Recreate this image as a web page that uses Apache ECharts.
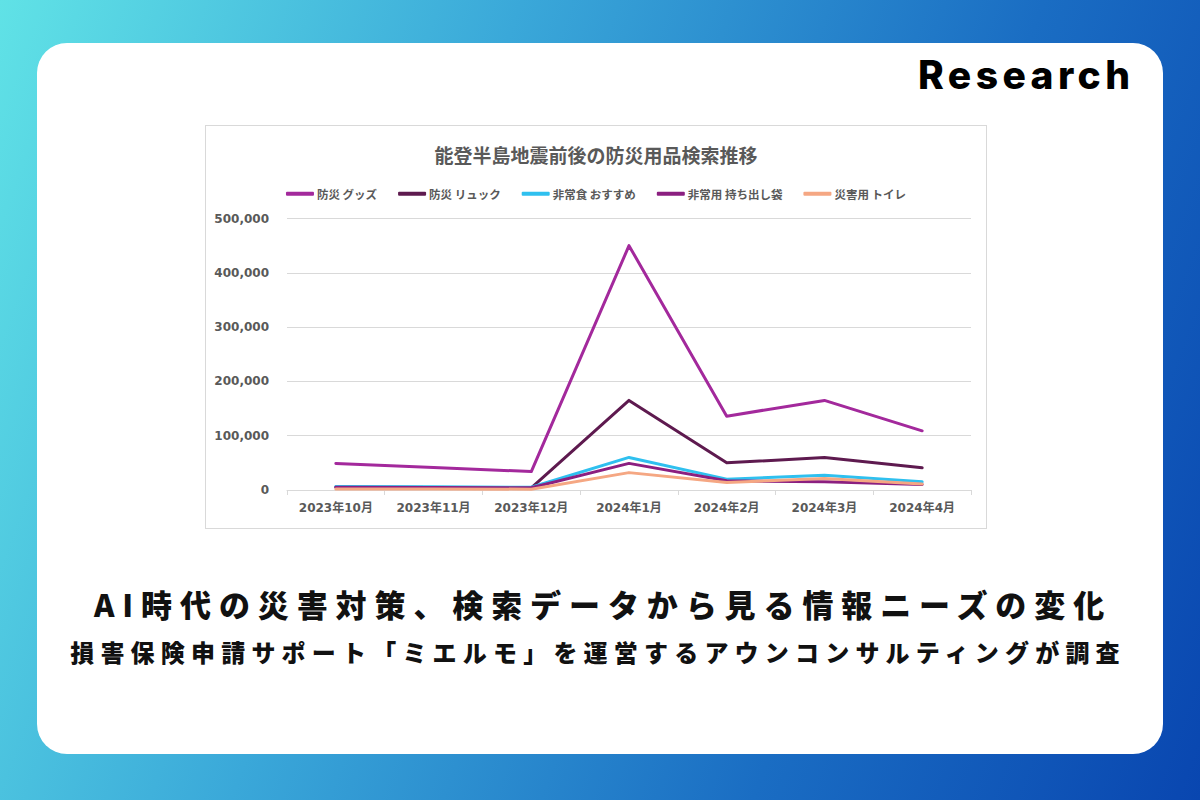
<!DOCTYPE html>
<html lang="ja">
<head>
<meta charset="utf-8">
<script src="https://cdn.jsdelivr.net/npm/echarts@6/dist/echarts.min.js"></script>
<style>
  html, body { margin: 0; padding: 0; }
  body {
    width: 1200px; height: 800px; position: relative; overflow: hidden;
    background: linear-gradient(110deg, #60e2e6 0%, #3aa8d9 35%, #1a6dc3 70%, #0946b0 100%);
    font-family: "Noto Sans CJK JP", sans-serif;
  }
  #card {
    position: absolute; left: 37px; top: 43px; width: 1126px; height: 711px;
    background: #fff; border-radius: 30px;
  }
  #research {
    position: absolute; left: 918px; top: 49px; width: 240px;
    font-family: Inter, "Noto Sans", sans-serif; font-weight: 800; font-size: 39px;
    letter-spacing: 4.4px; color: #000; line-height: 52px;
  }
  #chartBox {
    position: absolute; left: 205px; top: 125px; width: 780px; height: 402px;
    border: 1px solid #d9d9d9; background: #fff;
  }
  #chart { width: 780px; height: 402px; }
  .head {
    position: absolute; left: 0; width: 1200px; text-align: center; color: #111;
    font-family: "Noto Sans CJK JP", sans-serif; font-weight: 900; white-space: nowrap;
  }
  #h1 { top: 581px; left: 3px; font-size: 31px; letter-spacing: 7.9px; line-height: 46px; }
  #h2 { top: 635px; left: -2px; font-size: 24px; letter-spacing: 6.2px; line-height: 34px; }
</style>
</head>
<body>
<div id="card"></div>
<div id="research">Research</div>
<div id="chartBox"><div id="chart"></div></div>
<div class="head" id="h1">AI時代の災害対策、検索データから見る情報ニーズの変化</div>
<div class="head" id="h2">損害保険申請サポート「ミエルモ」を運営するアウンコンサルティングが調査</div>
<script>
const chartTitle = '能登半島地震前後の防災用品検索推移';
const categories = ['2023年10月','2023年11月','2023年12月','2024年1月','2024年2月','2024年3月','2024年4月'];
const seriesNames = ['防災 グッズ','防災 リュック','非常食 おすすめ','非常用 持ち出し袋','災害用 トイレ'];
const goods    = [49000, 41500, 34000, 450000, 136000, 165000, 109000];
const rucksack = [5000, 4500, 4000, 165000, 50000, 60000, 41000];
const food     = [6500, 6000, 5000, 60000, 20000, 27000, 15000];
const bag      = [5000, 4500, 4000, 49000, 17000, 15000, 10000];
const toilet   = [2000, 2000, 1500, 32000, 14000, 21000, 11000];
const yTicks = [0, 100000, 200000, 300000, 400000, 500000];

const colors = ['#a3299c', '#5e1a4f', '#2fc0ef', '#8b1f80', '#f5a783'];
const values = [goods, rucksack, food, bag, toilet];

const chart = echarts.init(document.getElementById('chart'), null, { renderer: 'svg' });
const font = "'DejaVu Sans', 'Noto Sans CJK JP', sans-serif";
chart.setOption({
  animation: false,
  color: colors,
  title: {
    text: chartTitle, left: 'center', top: 14,
    textStyle: { fontFamily: "'Noto Sans CJK JP', sans-serif", fontSize: 19, fontWeight: 'bold', color: '#595959' }
  },
  legend: {
    top: 57, left: 'center', itemGap: 21, itemWidth: 28, itemHeight: 4,
    icon: 'roundRect',
    data: seriesNames,
    textStyle: { fontFamily: "'Noto Sans CJK JP', sans-serif", fontSize: 11.5, color: '#595959', fontWeight: 'bold', padding: [0, 0, 0, -2] }
  },
  grid: { left: 81, right: 15, top: 92.5, bottom: 38, containLabel: false },
  xAxis: {
    type: 'category', data: categories, boundaryGap: true,
    axisLine: { lineStyle: { color: '#d9d9d9', width: 1 } },
    axisTick: { show: true, length: 5, lineStyle: { color: '#d9d9d9' } },
    axisLabel: { interval: 0, margin: 12, color: '#595959', fontFamily: font, fontSize: 12, fontWeight: 'bold' }
  },
  yAxis: {
    type: 'value', min: yTicks[0], max: yTicks[yTicks.length - 1], interval: yTicks[1] - yTicks[0],
    axisLine: { show: false }, axisTick: { show: false },
    splitLine: { lineStyle: { color: '#d9d9d9', width: 1 } },
    axisLabel: {
      margin: 18, color: '#595959', fontFamily: font, fontSize: 12, fontWeight: 'bold',
      formatter: v => v.toLocaleString('en-US')
    }
  },
  series: seriesNames.map((n, i) => ({
    name: n, type: 'line', data: values[i], symbol: 'none', showSymbol: false,
    lineStyle: { width: 3, color: colors[i], cap: 'round', join: 'round' },
    itemStyle: { color: colors[i] }
  }))
});
</script>
</body>
</html>
